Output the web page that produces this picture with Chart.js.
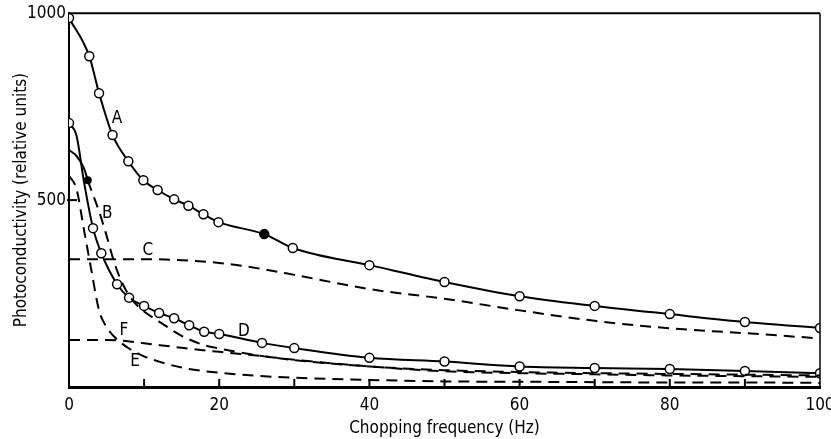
<!DOCTYPE html>
<html>
<head>
<meta charset="utf-8">
<script src="https://cdn.jsdelivr.net/npm/chart.js@4.4.0/dist/chart.umd.min.js"></script>
<style>
  html, body { margin: 0; padding: 0; background: #fff; }
  #wrap { width: 831px; height: 439px; }
</style>
</head>
<body>
<div id="wrap"><canvas id="chart"></canvas></div>
<script>
// curve A (open circles, one filled point at 26 Hz)
const aFreq = [0, 2.7, 4, 5.8, 7.9, 9.9, 11.8, 14, 15.9, 17.9, 19.9, 26, 29.8, 40, 50, 60, 70, 80, 90, 100];
const aVals = [987, 885, 786, 674, 604, 553, 527, 502, 485, 462, 441, 409, 372, 326, 281, 243, 217, 195, 174, 158];
const aFilled = [26];

// curve B (short solid start, filled dot, then dashed)
const bFreq = [0, 1, 2, 2.5, 3, 4, 5, 6, 7, 8, 9, 10, 12, 15, 18, 20, 25, 30, 40, 50, 60, 70, 80, 90, 100];
const bVals = [634, 618, 585, 553, 525, 470, 405, 335, 282, 245, 220, 202, 175, 137, 112, 103, 85, 72, 55, 45, 40, 37, 35, 33, 31];
const bDot = 2.5;

// curve C (dashed)
const cFreq = [0, 10, 15, 20, 25, 30, 40, 50, 60, 70, 80, 90, 100];
const cVals = [342, 342, 339, 332, 318, 300, 262, 236, 205, 177, 157, 144, 130];

// curve D (open circles)
const dFreq = [0, 1, 2, 3.2, 4.3, 6.4, 8, 10, 12, 14, 16, 18, 20, 25.7, 30, 40, 50, 60, 70, 80, 90, 100];
const dVals = [706, 672, 548, 425, 358, 275, 239, 217, 198, 184, 165, 148, 142, 118, 104, 78, 68, 55, 51, 48, 43, 37];
const dNoMarker = [1, 2];

// curve E (dashed)
const eFreq = [0, 1, 2, 3, 4, 5, 6, 7, 8, 10, 12, 15, 20, 25, 30, 40, 50, 60, 70, 80, 90, 100];
const eVals = [565, 530, 420, 310, 205, 160, 135, 117, 103, 82, 68, 52, 38, 30, 25, 19, 15, 14, 13, 12, 12, 11];

// curve F (dashed)
const fFreq = [0, 5, 7, 10, 15, 20, 25, 30, 40, 50, 60, 70, 80, 90, 100];
const fVals = [126, 126, 124, 117, 105, 94, 84, 73, 55, 42, 37, 34, 31, 29, 27];

// letters written next to the curves
const curveNames = ['A', 'B', 'C', 'D', 'E', 'F'];
const nameFreq = [6.4, 5.1, 10.5, 23.3, 8.8, 7.3];
const nameVals = [719, 465, 366, 147, 67, 152];

const xTickMarks = [10, 20, 30, 40, 50, 60, 70, 80, 90];
const yTickMarks = [500];

const FONT = "'Liberation Sans Narrow', 'DejaVu Sans Condensed', sans-serif";
const DASH = [11, 7];

const pts = (xs, ys) => xs.map((x, i) => ({ x, y: ys[i] }));

const frame = {
  id: 'frame',
  afterDatasetsDraw(chart) {
    const { ctx, chartArea: a, scales: { x, y } } = chart;
    ctx.save();
    ctx.strokeStyle = '#000';
    // top and right edges of the box
    ctx.lineWidth = 2;
    ctx.beginPath();
    ctx.moveTo(a.left, a.top);
    ctx.lineTo(a.right, a.top);
    ctx.stroke();
    ctx.lineWidth = 1.5;
    ctx.beginPath();
    ctx.moveTo(a.right, a.top);
    ctx.lineTo(a.right, a.bottom);
    ctx.stroke();
    // inward ticks
    ctx.lineWidth = 2;
    xTickMarks.forEach(v => {
      const px = x.getPixelForValue(v);
      ctx.beginPath();
      ctx.moveTo(px, a.bottom);
      ctx.lineTo(px, a.bottom - 8);
      ctx.stroke();
    });
    yTickMarks.forEach(v => {
      const py = y.getPixelForValue(v);
      ctx.beginPath();
      ctx.moveTo(a.left - 2, py);
      ctx.lineTo(a.left + 8, py);
      ctx.stroke();
    });
    // curve letters
    ctx.fillStyle = '#000';
    ctx.font = '17px ' + FONT;
    ctx.textAlign = 'center';
    ctx.textBaseline = 'middle';
    curveNames.forEach((t, i) => {
      ctx.fillText(t, x.getPixelForValue(nameFreq[i]), y.getPixelForValue(nameVals[i]));
    });
    ctx.restore();
  }
};

const solid = { borderColor: '#000', borderWidth: 2, showLine: true, cubicInterpolationMode: 'monotone', pointStyle: 'circle' };
const dashed = { ...solid, borderWidth: 2, borderDash: DASH, pointRadius: 0 };

new Chart(document.getElementById('chart'), {
  type: 'scatter',
  data: {
    datasets: [
      {
        ...solid,
        label: 'A',
        data: pts(aFreq, aVals),
        pointRadius: 4.5,
        pointBorderWidth: 1.5,
        pointBorderColor: '#000',
        pointBackgroundColor: aFreq.map(f => aFilled.includes(f) ? '#000' : '#fff')
      },
      {
        ...dashed,
        label: 'B',
        data: pts(bFreq, bVals),
        pointRadius: bFreq.map(f => f === bDot ? 3 : 0),
        pointBackgroundColor: '#000',
        segment: {
          borderDash: ctx => bFreq[ctx.p0DataIndex] < bDot ? [] : DASH
        }
      },
      { ...dashed, label: 'C', data: pts(cFreq, cVals) },
      {
        ...solid,
        label: 'D',
        data: pts(dFreq, dVals),
        pointRadius: dFreq.map(f => dNoMarker.includes(f) ? 0 : 4.5),
        pointBorderWidth: 1.5,
        pointBorderColor: '#000',
        pointBackgroundColor: '#fff'
      },
      { ...dashed, label: 'E', data: pts(eFreq, eVals) },
      { ...dashed, label: 'F', data: pts(fFreq, fVals) }
    ]
  },
  options: {
    responsive: true,
    maintainAspectRatio: false,
    animation: false,
    layout: { padding: { left: 0, right: 11, top: 13, bottom: 0 } },
    plugins: {
      legend: { display: false },
      tooltip: { enabled: false }
    },
    scales: {
      x: {
        type: 'linear',
        min: 0,
        max: 100,
        afterFit: s => { s.height = 52; s.paddingRight = 0; s.paddingLeft = 0; },
        grid: { display: false, drawTicks: false },
        border: { display: true, color: '#000', width: 3 },
        ticks: {
          stepSize: 20,
          autoSkip: false,
          maxRotation: 0,
          padding: 8,
          color: '#000',
          font: { family: FONT, size: 17 }
        },
        title: {
          display: true,
          text: 'Chopping frequency (Hz)',
          color: '#000',
          font: { family: FONT, size: 17 },
          padding: { top: 0, bottom: 0 }
        }
      },
      y: {
        type: 'linear',
        min: 0,
        max: 1000,
        afterFit: s => { s.width = 69; },
        grid: { display: false, drawTicks: false },
        border: { display: true, color: '#000', width: 2 },
        ticks: {
          stepSize: 500,
          padding: 3,
          color: '#000',
          font: { family: FONT, size: 17 },
          callback: v => v === 0 ? '' : v
        },
        title: {
          display: true,
          text: 'Photoconductivity (relative units)',
          color: '#000',
          font: { family: FONT, size: 17 },
          padding: { top: 11, bottom: 0 }
        }
      }
    }
  },
  plugins: [frame]
});
</script>
</body>
</html>
